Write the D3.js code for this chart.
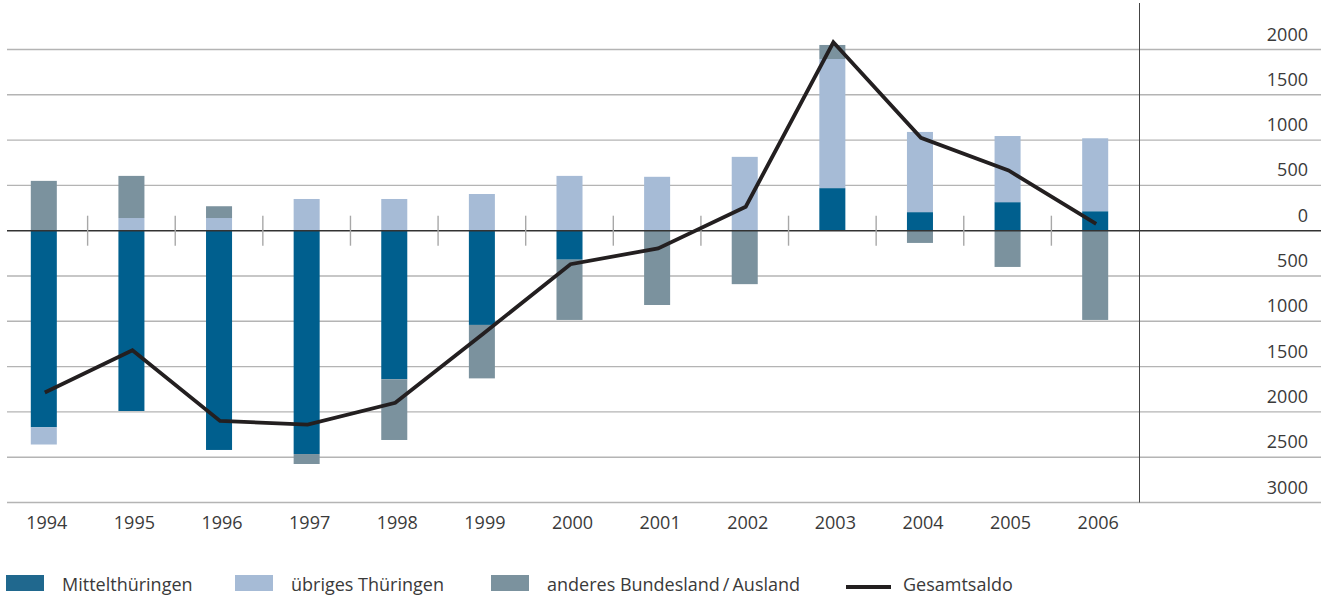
<!DOCTYPE html>
<html>
<head>
<meta charset="utf-8">
<script src="https://cdn.jsdelivr.net/npm/d3@7"></script>
<style>
  html, body { margin: 0; padding: 0; background: #fff; }
  svg { display: block; font-family: "Open Sans", "Noto Sans", sans-serif; }
</style>
</head>
<body>
<svg id="chart" width="1330" height="598"></svg>
<script>
// ---- data ----
const years = ["1994","1995","1996","1997","1998","1999","2000","2001","2002","2003","2004","2005","2006"];
const mittelthueringen = [-2170, -1990, -2420, -2465, -1640, -1040, -320, 0, 0, 470, 205, 315, 215];
const uebrigesThueringen = [-190, 140, 140, 350, 350, 405, 605, 595, 815, 1425, 885, 730, 805];
const anderesBundesland = [550, 465, 130, -110, -670, -590, -665, -820, -590, 155, -135, -400, -985];
const gesamtsaldo = [-1785, -1320, -2100, -2140, -1900, -1140, -370, -195, 265, 2080, 1025, 665, 75];
const yTicks = [2000, 1500, 1000, 500, 0, -500, -1000, -1500, -2000, -2500, -3000];
const seriesNames = ["Mittelthüringen", "übriges Thüringen", "anderes Bundesland\u2009/\u2009Ausland"];
const lineName = "Gesamtsaldo";

const colors = ["#005f8e", "#a6bbd6", "#7b929e"];
const legendColors = ["#20688e", "#a6bbd6", "#7b929e"];

const svg = d3.select("#chart");

const x = d3.scaleBand().domain(years).range([0, 1139]).paddingInner(0.703).paddingOuter(0.3515);
const y = d3.scaleLinear().domain([-3000, 2000]).range([502.5, 49.5]);

// gridlines
svg.append("g").selectAll("line").data(yTicks.filter(d => d !== 0)).join("line")
  .attr("x1", 7).attr("x2", 1321)
  .attr("y1", d => y(d)).attr("y2", d => y(d))
  .attr("stroke", "#b4b4b4").attr("stroke-width", 1.4);

// right axis labels
svg.append("g").selectAll("text").data(yTicks).join("text")
  .attr("x", 1308).attr("y", d => y(d) - 9)
  .attr("text-anchor", "end")
  .attr("font-size", 18).attr("fill", "#3a3a3a")
  .text(d => d3.format("d")(Math.abs(d)));

// vertical axis line
svg.append("line").attr("x1", 1139.5).attr("x2", 1139.5).attr("y1", 3).attr("y2", y(-3000))
  .attr("stroke", "#444").attr("stroke-width", 1);

// stacked data
const table = years.map((yr, i) => ({
  year: yr,
  m: mittelthueringen[i],
  u: uebrigesThueringen[i],
  a: anderesBundesland[i]
}));
const stack = d3.stack().keys(["m", "u", "a"]).offset(d3.stackOffsetDiverging);
const stacked = stack(table);

svg.append("g").selectAll("g").data(stacked).join("g")
  .attr("fill", (d, i) => colors[i])
  .selectAll("rect").data(d => d).join("rect")
  .attr("x", d => x(d.data.year))
  .attr("width", x.bandwidth())
  .attr("y", d => y(Math.max(d[0], d[1])))
  .attr("height", d => Math.abs(y(d[0]) - y(d[1])));

// zero line
svg.append("line").attr("x1", 7).attr("x2", 1321).attr("y1", y(0)).attr("y2", y(0))
  .attr("stroke", "#333").attr("stroke-width", 1.4);

// category ticks between bars
svg.append("g").selectAll("line").data(years.slice(0, -1)).join("line")
  .attr("x1", d => x(d) + x.bandwidth() / 2 + x.step() / 2)
  .attr("x2", d => x(d) + x.bandwidth() / 2 + x.step() / 2)
  .attr("y1", y(0) - 15).attr("y2", y(0) + 15)
  .attr("stroke", "#a8a8a8").attr("stroke-width", 1.4);

// year labels
svg.append("g").selectAll("text").data(years).join("text")
  .attr("x", d => x(d) + x.bandwidth() / 2 + 3)
  .attr("y", 529)
  .attr("text-anchor", "middle")
  .attr("font-size", 18).attr("fill", "#3a3a3a")
  .text(d => d);

// total line
const line = d3.line()
  .x((d, i) => x(years[i]) + x.bandwidth() / 2 + 1)
  .y(d => y(d));
svg.append("path").datum(gesamtsaldo)
  .attr("d", line)
  .attr("fill", "none").attr("stroke", "#231f20").attr("stroke-width", 3.8)
  .attr("stroke-linejoin", "miter");

// legend
const legend = svg.append("g");
const swX = [6, 235, 491];
const txX = [62, 291, 547];
seriesNames.forEach((name, i) => {
  legend.append("rect").attr("x", swX[i]).attr("y", 575).attr("width", 38).attr("height", 16)
    .attr("fill", legendColors[i]);
  legend.append("text").attr("x", txX[i]).attr("y", 591)
    .attr("font-size", 18).attr("fill", "#3a3a3a").text(name);
});
legend.append("line").attr("x1", 846).attr("x2", 891).attr("y1", 587).attr("y2", 587)
  .attr("stroke", "#231f20").attr("stroke-width", 4);
legend.append("text").attr("x", 903).attr("y", 591)
  .attr("font-size", 18).attr("fill", "#3a3a3a").text(lineName);
</script>
</body>
</html>
